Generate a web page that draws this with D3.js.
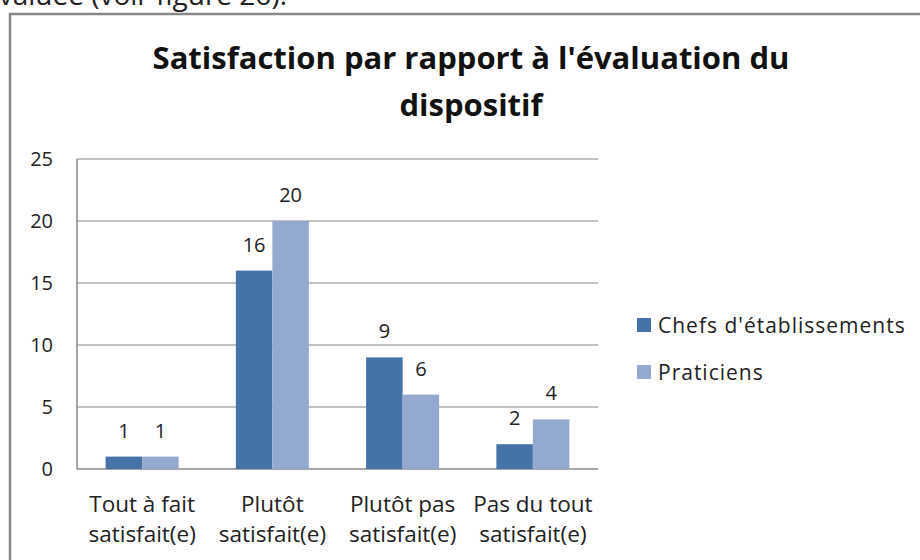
<!DOCTYPE html>
<html><head><meta charset="utf-8">
<script src="https://cdn.jsdelivr.net/npm/d3@7"></script>
<style>html,body{margin:0;padding:0;background:#fff;overflow:hidden}</style>
</head><body>
<svg id="c" width="920" height="560"></svg>
<script>
const categories = [["Tout à fait","satisfait(e)"],["Plutôt","satisfait(e)"],["Plutôt pas","satisfait(e)"],["Pas du tout","satisfait(e)"]];
const seriesNames = ["Chefs d'établissements","Praticiens"];
const chefs = [1,16,9,2];
const praticiens = [1,20,6,4];
const yTicks = [0,5,10,15,20,25];
const titleLines = ["Satisfaction par rapport à l'évaluation du","dispositif"];
const colors = ["#4572A7","#93A9CF"];

const svg = d3.select("#c");
const font = "'Open Sans', 'DejaVu Sans', sans-serif";

// cut-off preceding text
svg.append("text").attr("x",287).attr("y",5).attr("text-anchor","end")
  .attr("font-family",font).attr("font-size",28).attr("fill","#222").text("évaluée (voir figure 26).");

// chart frame
svg.append("rect").attr("x",10).attr("y",14).attr("width",1200).attr("height",1200)
  .attr("fill","#fff").attr("stroke","#888").attr("stroke-width",2.5);

const L=77,R=598,T=159,B=469;
const x = d3.scaleBand().domain(d3.range(categories.length)).range([L,R]);
const y = d3.scaleLinear().domain([0,25]).range([B,T]);
const barW = 36.5;

const g = svg.append("g");
g.selectAll("line.grid").data(yTicks.filter(d=>d>0)).join("line")
  .attr("x1",L).attr("x2",R).attr("y1",d=>y(d)).attr("y2",d=>y(d))
  .attr("stroke","#888").attr("stroke-width",1.2);
g.append("line").attr("x1",L).attr("x2",L).attr("y1",T).attr("y2",B).attr("stroke","#888").attr("stroke-width",1.5);
g.append("line").attr("x1",L).attr("x2",R).attr("y1",B).attr("y2",B).attr("stroke","#888").attr("stroke-width",1.5);

g.selectAll("text.yt").data(yTicks).join("text")
  .attr("x",53).attr("y",d=>y(d)+7).attr("text-anchor","end")
  .attr("font-family",font).attr("font-size",20).attr("fill","#222").text(d=>d);

const series = [chefs, praticiens];
series.forEach((vals,si)=>{
  const cx = i => x(i)+x.bandwidth()/2 + (si===0 ? -barW : 0);
  g.selectAll("rect.s"+si).data(vals).join("rect")
    .attr("x",(d,i)=>cx(i)).attr("y",d=>y(d)).attr("width",barW).attr("height",d=>B-y(d))
    .attr("fill",colors[si]);
  g.selectAll("text.v"+si).data(vals).join("text")
    .attr("x",(d,i)=>cx(i)+barW/2).attr("y",d=>y(d)-19).attr("text-anchor","middle")
    .attr("font-family",font).attr("font-size",20).attr("fill","#222").text(d=>d);
});

categories.forEach((lines,i)=>{
  lines.forEach((t,li)=>{
    g.append("text").attr("x",x(i)+x.bandwidth()/2).attr("y",512+li*30).attr("text-anchor","middle")
      .attr("font-family",font).attr("font-size",22.5).attr("fill","#222").text(t);
  });
});

titleLines.forEach((t,i)=>{
  svg.append("text").attr("x",471).attr("y",69+i*47).attr("text-anchor","middle")
    .attr("font-family",font).attr("font-weight","bold").attr("font-size",31).attr("fill","#111").text(t);
});

seriesNames.forEach((n,i)=>{
  const ly = 325 + i*47;
  svg.append("rect").attr("x",637).attr("y",ly-7).attr("width",14).attr("height",14).attr("fill",colors[i]);
  svg.append("text").attr("x",658).attr("y",ly+8).attr("font-family",font).attr("font-size",21)
    .attr("letter-spacing",1).attr("fill","#222").text(n);
});
</script>
</body></html>
